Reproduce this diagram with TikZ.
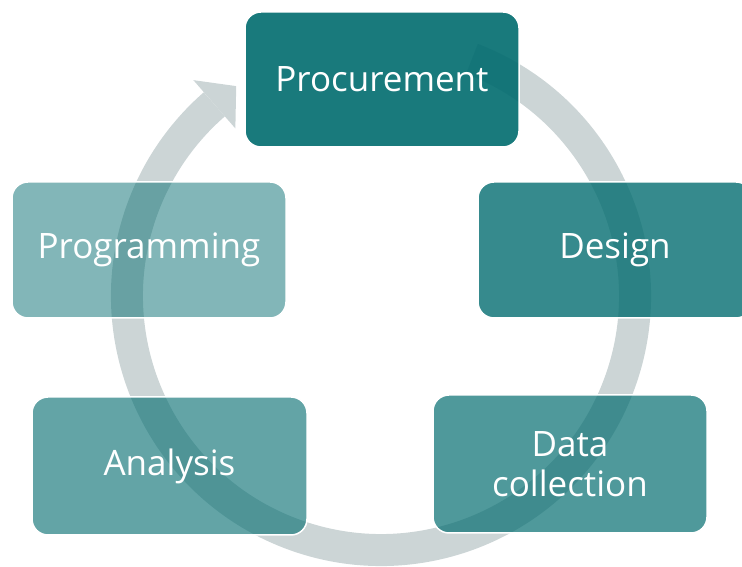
\documentclass[tikz,border=0pt]{standalone}
\usepackage{fontspec}
\setmainfont{Open Sans}
\definecolor{tealbase}{RGB}{0,107,110}
\definecolor{ringgrey}{RGB}{204,213,214}
\begin{document}
\begin{tikzpicture}[x=1pt,y=1pt,
  stagebox/.style={rounded corners=16pt, fill=tealbase, draw=white, line width=1.5pt,
    text=white, text opacity=1, draw opacity=1, inner sep=0pt, outer sep=0pt,
    font=\fontsize{35}{40}\selectfont, align=center},
  ringline/.style={draw=ringgrey, line width=32pt},
]
\useasboundingbox (0,0) rectangle (742,567);
\clip (0,0) rectangle (742,567);
\coordinate (c) at (381,271);
% circular arrow
\draw[ringline] ([shift={(69:254)}]c) arc[start angle=69, end angle=-229, radius=254];
\fill[ringgrey] ([shift={(131:222)}]c) -- ([shift={(124.6:255)}]c) -- ([shift={(131:286)}]c) -- cycle;
% stages
\node[stagebox, fill opacity=0.9, minimum width=274pt, minimum height=135pt] (proc) at (382,487.5) {Procurement};
\node[stagebox, fill opacity=0.79, minimum width=274pt, minimum height=136pt] (design) at (615,317) {Design};
\node[stagebox, fill opacity=0.69, minimum width=274pt, minimum height=138pt] (data) at (570,103) {Data\\collection};
\node[stagebox, fill opacity=0.61, minimum width=275pt, minimum height=138pt] (analysis) at (169.5,101) {Analysis};
\node[stagebox, fill opacity=0.49, minimum width=274pt, minimum height=136pt] (prog) at (149,317) {Programming};
\end{tikzpicture}
\end{document}
